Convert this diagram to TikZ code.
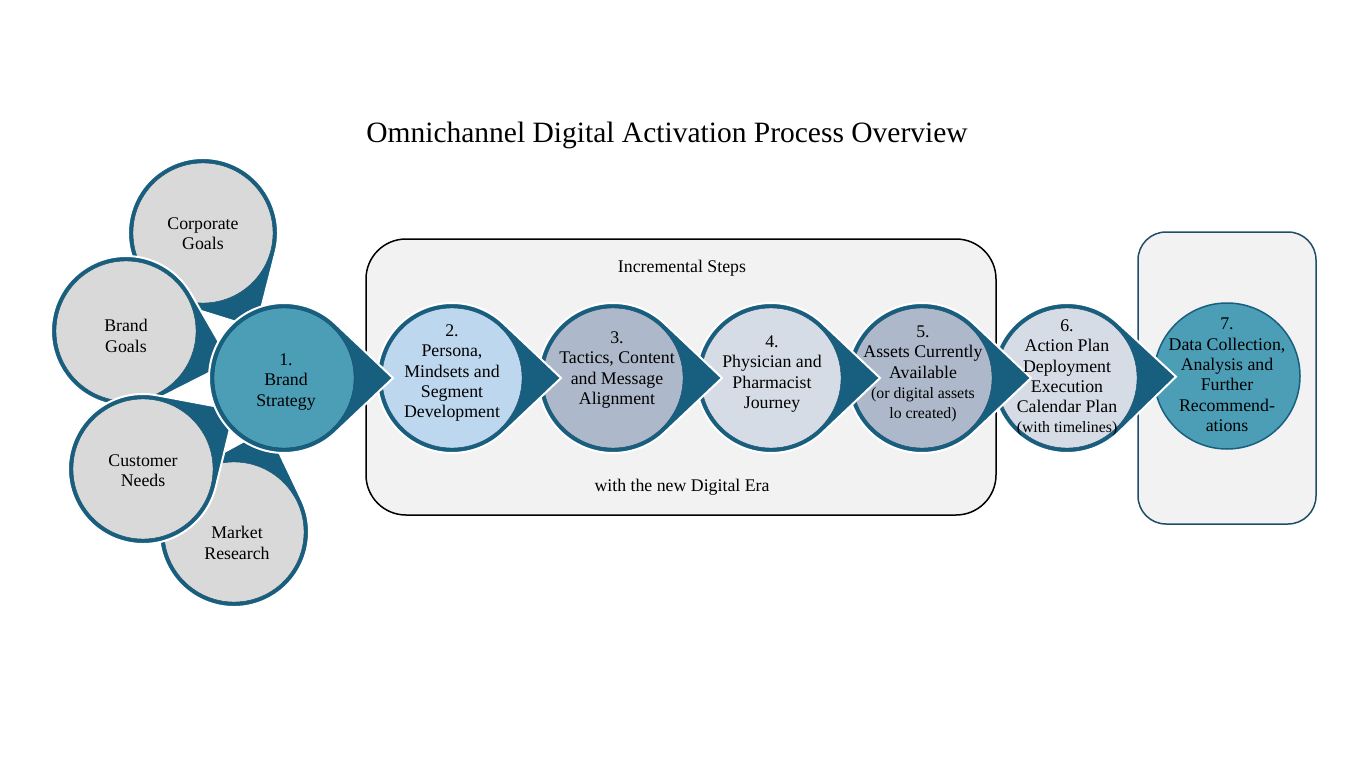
\documentclass[tikz,border=0pt]{standalone}
\usepackage{fontspec}
\setmainfont{Liberation Serif}
\usetikzlibrary{calc}
\definecolor{dk}{RGB}{24,94,127}
\definecolor{teal}{RGB}{75,158,182}
\definecolor{lblue}{RGB}{189,215,238}
\definecolor{gblue}{RGB}{173,185,202}
\definecolor{pale}{RGB}{214,220,229}
\definecolor{grey}{RGB}{217,217,217}
\definecolor{boxfill}{RGB}{242,242,242}
\definecolor{rbord}{RGB}{31,78,105}
\tikzset{
  lbl/.style={align=center, inner sep=0pt, font=\fontsize{17.8}{20.3}\selectfont, text=black},
  innerc/.style={draw=dk!80!black, line width=0.4pt},
}
\newcommand\smtxt[1]{{\fontsize{15.8}{19}\selectfont #1}}
\newcommand\tdrop[3]{%
  \path[fill=dk, draw=white, line width=2pt]
    let \p1=(#1), \p2=(#2), \n1={atan2(\y2-\y1,\x2-\x1)} in
    ($(#1)+(\n1:109pt)$) -- ($(#1)+(\n1+46.5:75pt)$)
    arc[start angle={\n1+46.5}, end angle={\n1+313.5}, radius=75pt] -- cycle;
  \path[fill=#3, innerc] (#1) circle[radius=70pt];
}
\begin{document}
\begin{tikzpicture}[x=1pt,y=-1pt]
\useasboundingbox[fill=white] (0,0) rectangle (1366,768);
% title
\node[inner sep=0pt, font=\fontsize{29.5}{33}\selectfont] (title) at (667,135) {Omnichannel Digital Activation Process Overview};
% boxes
\draw[fill=boxfill, draw=black, line width=1.5pt, rounded corners=40pt] (366,239) rectangle (996,515);
\draw[fill=boxfill, draw=rbord, line width=1.5pt, rounded corners=28pt] (1138,232) rectangle (1316,524);
\node[lbl] (inc) at (682,268) {Incremental Steps};
\node[lbl] (era) at (682,487) {with the new Digital Era};
% centers
\coordinate (c1) at (284,378);
\coordinate (c2) at (452,378);
\coordinate (c3) at (613,378);
\coordinate (c4) at (771,378);
\coordinate (c5) at (922,378);
\coordinate (c6) at (1067,378);
\coordinate (c7) at (1227,376);
\coordinate (s1) at (203,233);
\coordinate (s2) at (126,331);
\coordinate (s3) at (143,469);
\coordinate (s4) at (234,532);
% step 7
\path[fill=teal, draw=dk, line width=1.5pt] (c7) circle[radius=73pt];
% steps 6..2
\tdrop{c6}{c7}{pale}
\tdrop{c5}{c6}{gblue}
\tdrop{c4}{c5}{pale}
\tdrop{c3}{c4}{gblue}
\tdrop{c2}{c3}{lblue}
% satellites
\tdrop{s1}{c1}{grey}
\tdrop{s4}{c1}{grey}
\tdrop{s2}{c1}{grey}
\tdrop{s3}{c1}{grey}
% step 1
\tdrop{c1}{c2}{teal}
% texts
\node[lbl] (t1) at (286,382) {1.\\Brand\\Strategy};
\node[lbl] (t2) at (452,373) {2.\\Persona,\\Mindsets and\\Segment\\Development};
\node[lbl] (t3) at (617,370) {3.\\Tactics, Content\\and Message\\Alignment};
\node[lbl] (t4) at (772,374) {4.\\Physician and\\Pharmacist\\Journey};
\node[lbl] (t5) at (923,374) {5.\\Assets Currently\\Available\\\smtxt{(or digital assets}\\\smtxt{lo created)}};
\node[lbl] (t6) at (1067,378) {6.\\Action Plan\\Deployment\\Execution\\Calendar Plan\\\smtxt{(with timelines)}};
\node[lbl] (t7) at (1227,375) {7.\\Data Collection,\\Analysis and\\Further\\Recommend-\\ations};
\node[lbl] (ts1) at (203,234) {Corporate\\Goals};
\node[lbl] (ts2) at (126,336) {Brand\\Goals};
\node[lbl] (ts3) at (143,471) {Customer\\Needs};
\node[lbl] (ts4) at (237,543) {Market\\Research};
\end{tikzpicture}
\end{document}
